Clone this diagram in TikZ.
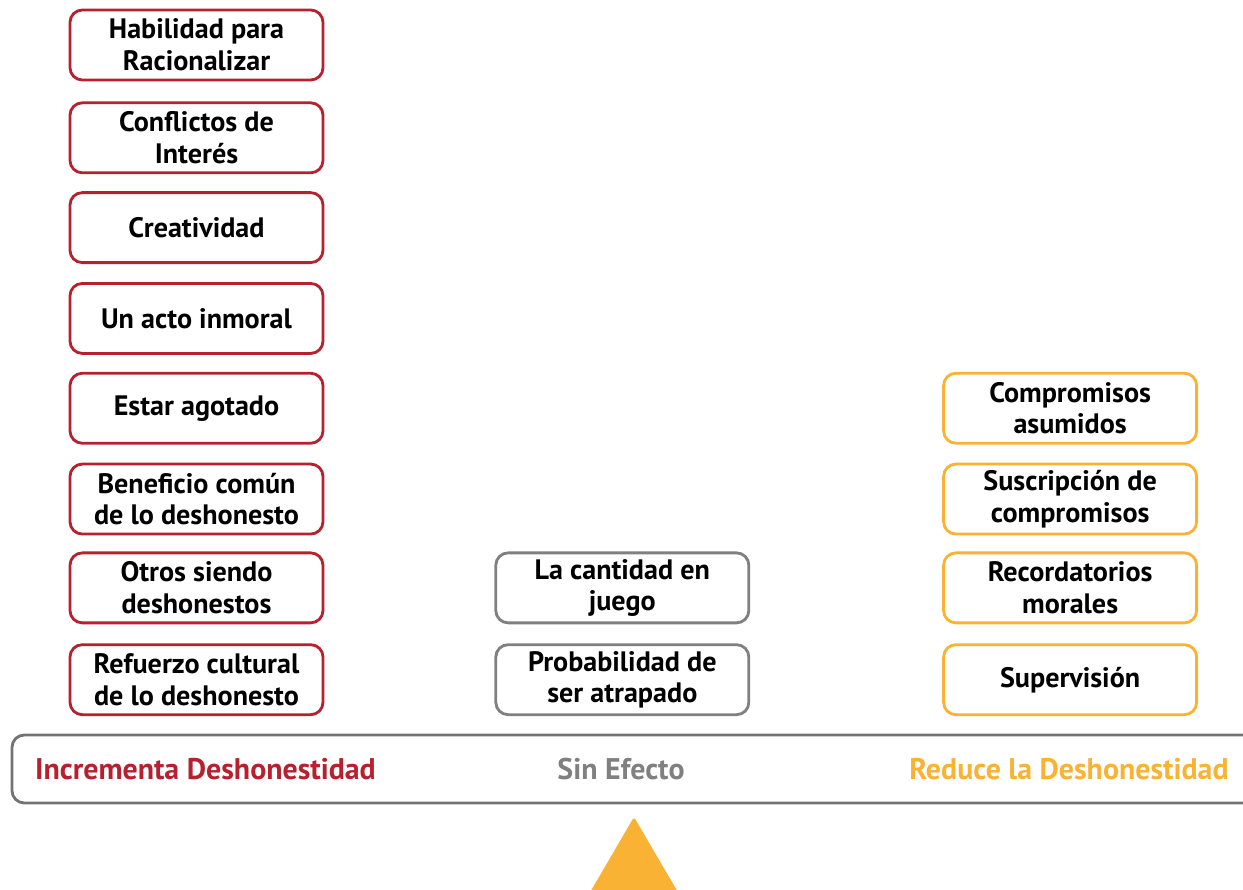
\documentclass[tikz,border=0pt]{standalone}
\usepackage{fontspec}
\setmainfont{PT Sans}
\usepackage{tikz}
\usetikzlibrary{positioning}
\definecolor{rojo}{RGB}{183,33,47}
\definecolor{naranja}{RGB}{249,178,51}
\definecolor{gris}{RGB}{128,128,128}
\tikzset{
     caja/.style={draw, line width=1.6pt, rounded corners=7pt, fill=white,
        minimum width=5.06cm, minimum height=1.4cm, align=center,
        font=\fontsize{16}{18}\selectfont\bfseries, inner sep=0pt},
     rojobox/.style={caja, draw=rojo},
     grisbox/.style={caja, draw=gris},
     naranjabox/.style={caja, draw=naranja},
     barlabel/.style={font=\fontsize{17}{20}\selectfont\bfseries}
     }

\begin{document}
\begin{tikzpicture}
                    \useasboundingbox (0,0) rectangle (24.86,-17.78);
                    \clip (0,0) rectangle (24.86,-17.78);
                    % Left column
                    \node [rojobox] (hab) at (3.93,-0.9) {Habilidad para\\Racionalizar};
                    \node [rojobox, below=0.4cm of hab] (conf) {Conflictos de\\Interés};
                    \node [rojobox, below=0.34cm of conf] (crea) {Creatividad};
                    \node [rojobox, below=0.36cm of crea] (acto) {Un acto inmoral};
                    \node [rojobox, below=0.34cm of acto] (agot) {Estar agotado};
                    \node [rojobox, below=0.36cm of agot] (benef) {Beneficio común\\de lo deshonesto};
                    \node [rojobox, below=0.32cm of benef] (otros) {Otros siendo\\deshonestos};
                    \node [rojobox, below=0.38cm of otros] (refu) {Refuerzo cultural\\de lo deshonesto};
                    % Center column
                    \node [grisbox, right=3.4cm of otros] (cant) {La cantidad en\\juego};
                    \node [grisbox, right=3.4cm of refu] (prob) {Probabilidad de\\ser atrapado};
                    % Right column
                    \node [naranjabox, right=3.84cm of cant] (recor) {Recordatorios\\morales};
                    \node [naranjabox, right=3.84cm of prob] (superv) {Supervisión};
                    \node [naranjabox, above=0.32cm of recor] (suscr) {Suscripción de\\compromisos};
                    \node [naranjabox, above=0.36cm of suscr] (compr) {Compromisos\\asumidos};
                    % Scale bar
                    \draw [line width=1.6pt, draw=gris!90!black, rounded corners=7pt] (0.24,-14.7) rectangle (25.4,-16.06);
                    \node [barlabel, text=rojo] (incr) at (4.11,-15.38) {Incrementa Deshonestidad};
                    \node [barlabel, text=gris] (sinef) at (12.42,-15.38) {Sin Efecto};
                    \node [barlabel, text=naranja] (reduc) at (21.38,-15.38) {Reduce la Deshonestidad};
                    % Pointer
                    \fill [naranja, rounded corners=1pt] (12.68,-16.34) -- (14.0,-18.6) -- (11.36,-18.6) -- cycle;
                \end{tikzpicture}
\end{document}
